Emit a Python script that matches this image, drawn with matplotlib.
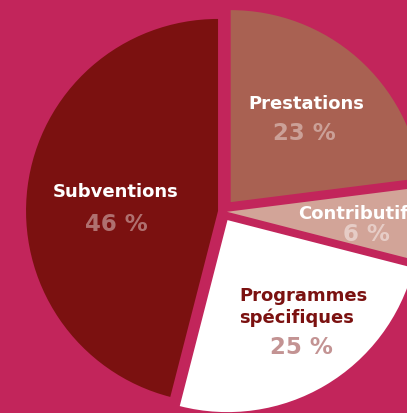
import numpy as np
import matplotlib
matplotlib.use("Agg")
import matplotlib.pyplot as plt

# data
labels = ["Prestations", "Contributif", "Programmes\nspécifiques", "Subventions"]
shares = [23, 6, 25, 46]
pct_labels = ["23 %", "6 %", "25 %", "46 %"]
colors = ["#A96152", "#D2A498", "#FFFFFF", "#7B1110"]
explode = [12.5, 4.6, 10, 4.4]

bg = "#C2255B"
W, H = 407, 414

fig = plt.figure(figsize=(W / 100, H / 100), dpi=100, facecolor=bg)
ax = fig.add_axes([0, 0, 1, 1])
ax.set_facecolor(bg)

cx, cy = 222.4, H - 212.5
ax.pie(shares, colors=colors, explode=explode, startangle=90, counterclock=False,
       radius=192, center=(cx, cy), frame=True, wedgeprops=dict(linewidth=0))
ax.set_xlim(0, W)
ax.set_ylim(0, H)
ax.set_aspect("equal")
ax.axis("off")

font = "DejaVu Sans"
# name labels: (x, y_from_top, colour)
name_pos = [(306, 104, "white"), (353, 214, "white"), (239, 307, "#7B1110"), (116, 192, "white")]
pct_pos = [(304, 133, "white", 0.4), (366, 235, "white", 0.45), (301, 348, "#7B1110", 0.45), (116, 225, "white", 0.4)]

for i in range(len(labels)):
    x, y, c = name_pos[i]
    if "\n" in labels[i]:
        ax.text(x, H - y, labels[i], ha="left", va="center", color=c, fontsize=13,
                fontweight="bold", family=font, linespacing=1.2)
    else:
        ax.text(x, H - y, labels[i], ha="center", va="center", color=c, fontsize=13,
                fontweight="bold", family=font)
    x, y, c, a = pct_pos[i]
    ax.text(x, H - y, pct_labels[i], ha="center", va="center", color=c, alpha=a,
            fontsize=16.5, fontweight="bold", family=font)

fig.savefig("out.png", dpi=100, facecolor=bg)
